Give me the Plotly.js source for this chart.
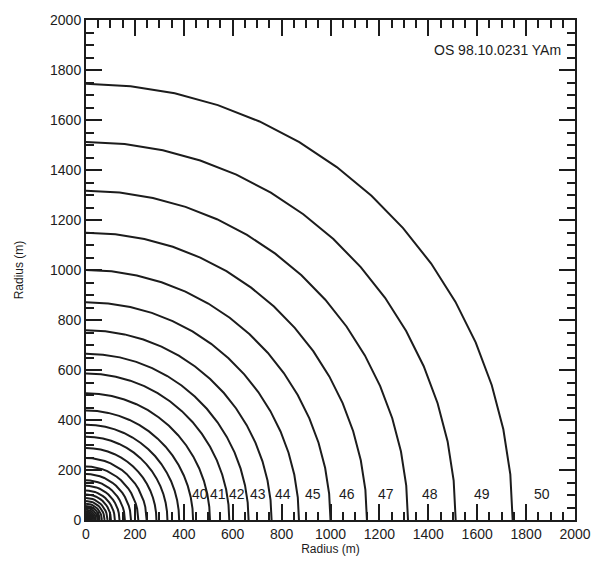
<!DOCTYPE html>
<html>
<head>
<meta charset="utf-8">
<script src="https://cdn.plot.ly/plotly-3.0.1.min.js"></script>
<style>
  html, body { margin: 0; padding: 0; background: #fff; }
  #chart { width: 598px; height: 562px; }
</style>
</head>
<body>
<div id="chart"></div>
<script>
// Contour levels that carry a label, and the radius (m) of each contour
const labelLevels = [40, 41, 42, 43, 44, 45, 46, 47, 48, 49, 50];
const labelRadii = [438, 507, 586, 665, 759, 871, 1000, 1149, 1317, 1512, 1745];

// Unlabelled inner contours (m), tightening toward the source at the origin
const innerRadii = [381, 333, 288, 248, 214, 184, 159, 137, 118, 102, 88, 76,
                    65, 56, 48, 41, 35, 30, 25, 21, 17, 14, 11, 8, 5];

// Axis ticks
const tickValues = [0, 200, 400, 600, 800, 1000, 1200, 1400, 1600, 1800, 2000];
const tickLabels = ['0', '200', '400', '600', '800', '1000', '1200', '1400', '1600', '1800', '2000'];

const stampText = 'OS 98.10.0231 YAm';
const axisTitle = 'Radius (m)';

const INK = '#1c1c1c';
const FONT = 'Liberation Sans, Arial, sans-serif';
const ANGLE_STEP = 6; // each contour is traced as a polyline in 6-degree steps

function arc(r) {
  const xs = [], ys = [];
  for (let a = 0; a <= 90; a += ANGLE_STEP) {
    const t = a * Math.PI / 180;
    xs.push(r * Math.cos(t));
    ys.push(r * Math.sin(t));
  }
  return { xs, ys };
}

const traces = labelRadii.concat(innerRadii).map(r => {
  const p = arc(r);
  return {
    x: p.xs, y: p.ys, type: 'scatter', mode: 'lines',
    line: { color: INK, width: 2 },
    hoverinfo: 'skip', showlegend: false
  };
});

// Level labels sit near the baseline, between a contour and the next one outward
const annotations = labelLevels.map((lv, i) => {
  const r = labelRadii[i];
  const next = i + 1 < labelRadii.length ? labelRadii[i + 1] : 2000;
  return {
    x: (r + next) / 2 - 8, y: 104, xref: 'x', yref: 'y',
    text: String(lv), showarrow: false,
    font: { family: FONT, size: 14, color: INK }
  };
});

annotations.push({
  x: 1950, y: 1880, xref: 'x', yref: 'y', xanchor: 'right', yanchor: 'middle',
  text: stampText, showarrow: false,
  font: { family: FONT, size: 14, color: INK }
});

const axisCommon = {
  range: [0, 2000],
  tickvals: tickValues, ticktext: tickLabels,
  ticks: 'inside', ticklen: 16, tickwidth: 2, tickcolor: INK,
  minor: { dtick: 50, tick0: 0, ticks: 'inside', ticklen: 8, tickwidth: 2, tickcolor: INK },
  showline: true, linewidth: 2, linecolor: INK, mirror: 'allticks',
  showgrid: false, zeroline: false,
  tickfont: { family: FONT, size: 14, color: INK },
  fixedrange: true
};

const layout = {
  width: 598, height: 562,
  margin: { l: 86, r: 23, t: 20, b: 42 },
  paper_bgcolor: '#fff', plot_bgcolor: '#fff',
  xaxis: Object.assign({}, axisCommon, {
    title: { text: axisTitle, standoff: 3, font: { family: FONT, size: 12, color: INK } }
  }),
  yaxis: Object.assign({}, axisCommon, {
    title: { text: axisTitle, standoff: 24, font: { family: FONT, size: 12, color: INK } }
  }),
  annotations: annotations
};

Plotly.newPlot('chart', traces, layout, { staticPlot: true, displayModeBar: false });
</script>
</body>
</html>
